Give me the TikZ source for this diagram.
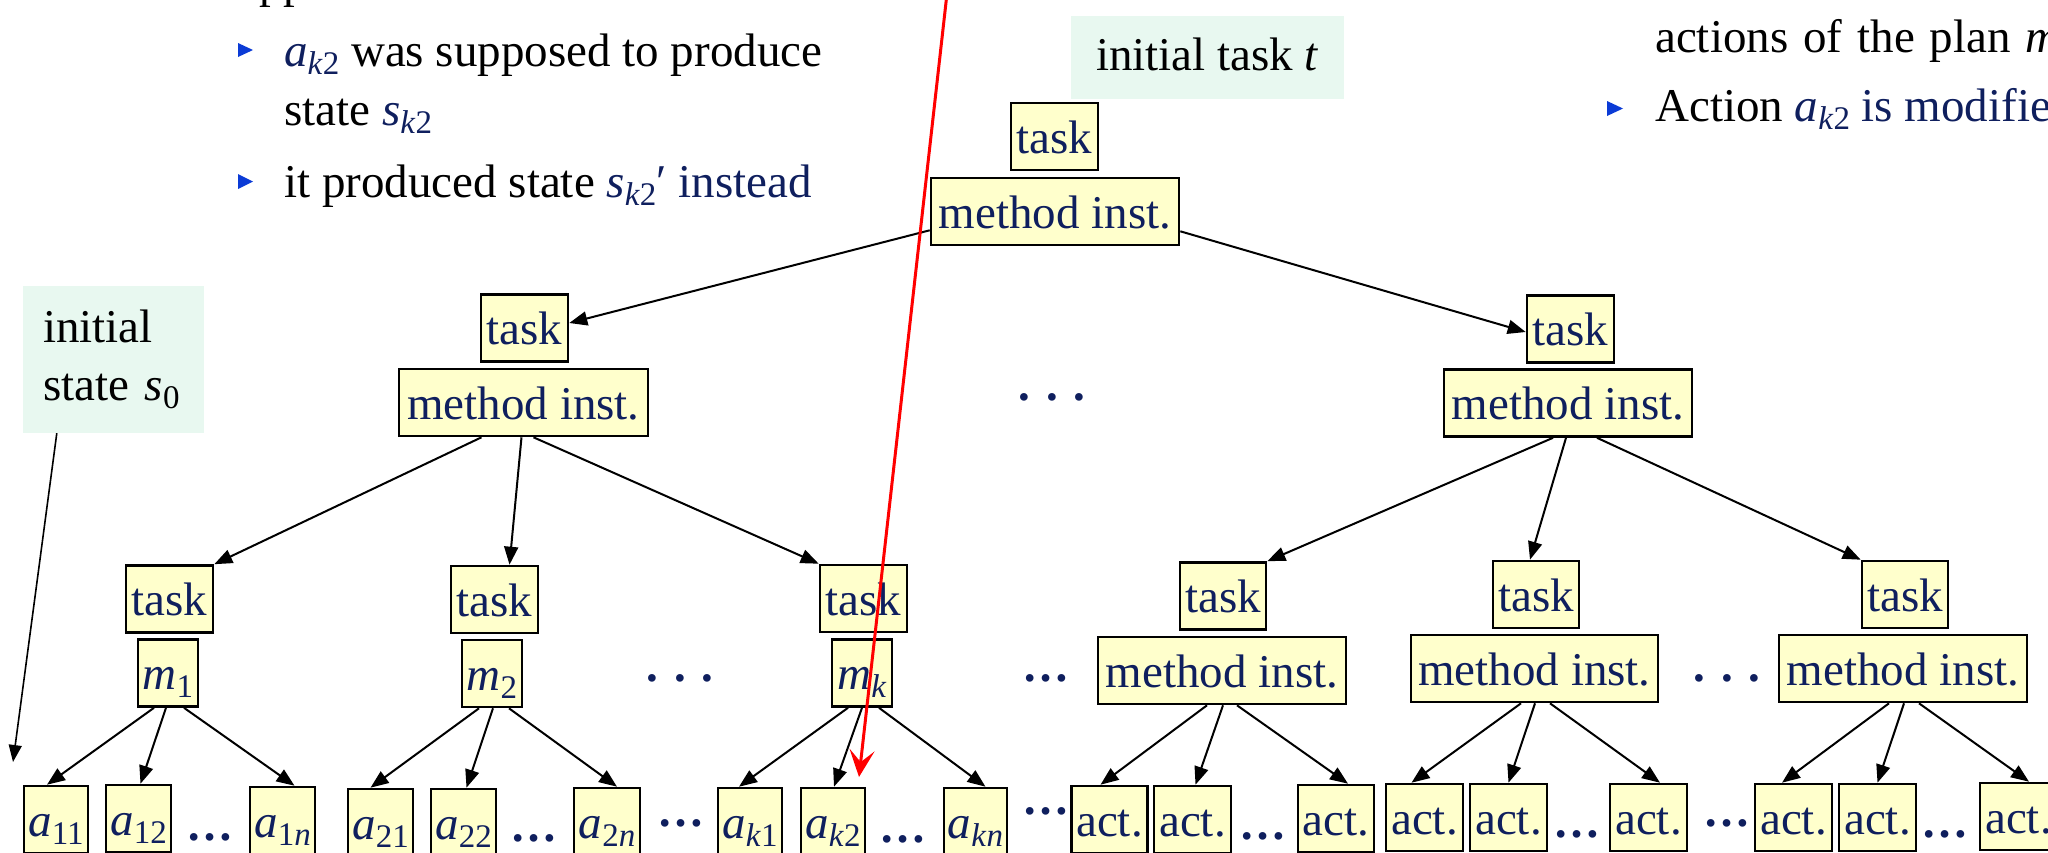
\documentclass[tikz,border=0pt]{standalone}
\usepackage{fontspec}
\setmainfont{Liberation Serif}
\usetikzlibrary{arrows.meta}
\definecolor{navy}{HTML}{0F1F5E}
\definecolor{boxyellow}{HTML}{FFFFCC}
\definecolor{mint}{HTML}{E8F8F0}
\definecolor{bulletblue}{HTML}{0B3BD6}
\newcommand{\ivar}[2]{\textit{#1}\raisebox{-8pt}{\fontsize{33}{33}\selectfont #2}}
\newcommand{\ik}{\textit{k}}
\newcommand{\inn}{\textit{n}}
\begin{document}
\begin{tikzpicture}[x=1pt,y=-1pt,
  every node/.style={inner sep=0pt},
  basefont/.style={font=\fontsize{47}{56}\selectfont},
  box/.style={basefont, draw=black, line width=2.6pt, fill=boxyellow, text=navy, minimum height=67pt, text height=42pt, text depth=9pt},
  tbox/.style={box, minimum width=87pt},
  mbox/.style={box, minimum width=248pt},
  sbox/.style={box, minimum width=60pt},
  abox/.style={box, minimum width=#1pt},
  arr/.style={draw=black, line width=2pt, -{Triangle[length=18pt,width=14pt]}},
  thinarr/.style={draw=black, line width=1.6pt, -{Triangle[length=17pt,width=13pt]}},
  redarr/.style={draw=red, line width=3pt, -{Stealth[length=27pt,width=25pt,inset=12pt]}},
  tdots/.style={text=navy, font=\fontsize{47}{56}\selectfont\bfseries, anchor=base},
  btext/.style={basefont, anchor=base west},
]
\useasboundingbox (0,0) rectangle (2048,852);
\clip (0,0) rectangle (2048,852);

% ---- bullet texts ----
\node[btext] (frag) at (210,-3) {Suppose};
\fill[bulletblue] (238,43) -- (253,50) -- (238,57) -- cycle;
\node[btext] (b1) at (284,66) {\textcolor{navy}{\ivar{a}{\ik2}} was supposed to produce};
\node[btext] (b1b) at (284,125) {state \textcolor{navy}{\ivar{s}{\ik2}}};
\fill[bulletblue] (238,174) -- (253,181.5) -- (238,189) -- cycle;
\node[btext] (b2) at (284,197) {it produced state \textcolor{navy}{\ivar{s}{\ik2}′ instead}};
\node[btext] (r1) at (1655,52) {{\spaceskip=15pt actions of the plan \textit{m}}};
\fill[bulletblue] (1607,101) -- (1623,108.5) -- (1607,116) -- cycle;
\node[btext] (r2) at (1655,121) {Action \textcolor{navy}{\ivar{a}{\ik2} is modified}};

% ---- labels ----
\node[basefont, fill=mint, minimum width=273pt, minimum height=83pt, text height=32pt, text depth=7pt] (itask) at (1207.5,57.5) {initial task \textit{t}};
\node[fill=mint, minimum width=181pt, minimum height=147pt, text width=141pt, inner xsep=20pt, align=left, font=\fontsize{47}{58}\selectfont] (istate) at (113.5,359.5) {initial\\state \ivar{s}{0}};
\coordinate (s0end) at (13,762);

% ---- tree ----
\node[tbox] (T0) at (1054.5,136.5) {task};
\node[mbox] (M0) at (1055,211.5) {method inst.};
\node[tbox] (T1) at (524.5,328) {task};
\node[mbox, minimum width=249pt] (M1) at (523.5,402.5) {method inst.};
\node[tbox] (T2) at (1570.5,329) {task};
\node[mbox] (M2) at (1568,403) {method inst.};
\node[tdots] (d0) at (1052,400) {. . .};

\node[tbox] (T11) at (169.5,599) {task};
\node[sbox] (m1) at (168,673) {\ivar{m}{1}};
\node[tbox] (T12) at (494.5,599.5) {task};
\node[sbox] (m2) at (492,673.5) {\ivar{m}{2}};
\node[tbox] (T13) at (863.5,598.5) {task};
\node[sbox] (mk) at (862,673) {\ivar{m}{\ik}};
\node[tdots] (d1) at (680,681) {. . .};
\node[tdots] (d2) at (1045.5,681) {…};

\node[tbox, minimum width=86pt] (T21) at (1223,596) {task};
\node[mbox] (M21) at (1222,670.5) {method inst.};
\node[tbox, minimum width=86pt] (T22) at (1536,594.5) {task};
\node[mbox, minimum width=247pt] (M22) at (1534.5,668.5) {method inst.};
\node[tbox, minimum width=86pt] (T23) at (1905,594.5) {task};
\node[mbox] (M23) at (1903,668.5) {method inst.};
\node[tdots] (d3) at (1727,681) {. . .};

% ---- bottom row ----
\node[abox=64] (a11) at (56,819.5) {\ivar{a}{11}};
\node[abox=65] (a12) at (138.5,818.5) {\ivar{a}{12}};
\node[tdots] (e1) at (209.5,840) {…};
\node[abox=65] (a1n) at (282.5,820.5) {\ivar{a}{1\inn}};
\node[abox=65] (a21) at (380.5,822.5) {\ivar{a}{21}};
\node[abox=65] (a22) at (463.5,822.5) {\ivar{a}{22}};
\node[tdots] (e2) at (534,841) {…};
\node[abox=66] (a2n) at (607,821.5) {\ivar{a}{2\inn}};
\node[tdots] (e3) at (680.5,826) {…};
\node[abox=64] (ak1) at (750,821.5) {\ivar{a}{\ik1}};
\node[abox=64] (ak2) at (833,821.5) {\ivar{a}{\ik2}};
\node[tdots] (e4) at (903,842) {…};
\node[abox=63] (akn) at (975.5,821.5) {\ivar{a}{\ik\inn}};
\node[tdots] (e5) at (1045.5,814) {…};
\node[abox=76] (c11) at (1109.5,819.5) {act.};
\node[abox=77] (c12) at (1192.5,819.5) {act.};
\node[tdots] (e6) at (1262.5,839) {…};
\node[abox=76] (c13) at (1336,818.5) {act.};
\node[abox=77] (c21) at (1424.5,817.5) {act.};
\node[abox=77] (c22) at (1508.5,817.5) {act.};
\node[tdots] (e7) at (1576.5,837) {…};
\node[abox=77] (c23) at (1648.5,817.5) {act.};
\node[tdots] (e8) at (1727,826) {…};
\node[abox=77] (c31) at (1793.5,817.5) {act.};
\node[abox=77] (c32) at (1877.5,817.5) {act.};
\node[tdots] (e9) at (1945,837) {…};
\node[abox=77] (c33) at (2018.5,816.5) {act.};

% ---- connectors ----
\draw[thinarr] ([xshift=34pt]istate.south west) -- (s0end);
\draw[arr] ([yshift=16pt]M0.south west) -- ([yshift=5pt]T1.east);
\draw[arr] ([yshift=15pt]M0.south east) -- ([yshift=-3pt]T2.west);

\draw[arr] ([xshift=-42pt]M1.south) -- (T11.north east);
\draw[arr] ([xshift=-2pt]M1.south) -- ([xshift=15pt]T12.north);
\draw[arr] ([xshift=10pt]M1.south) -- (T13.north west);

\draw[arr] ([xshift=-15pt]M2.south) -- (T21.north east);
\draw[arr] ([xshift=-2pt]M2.south) -- ([xshift=-6pt]T22.north);
\draw[arr] ([xshift=29pt]M2.south) -- (T23.north west);

\draw[arr] ([xshift=-14pt]m1.south) -- ([xshift=-9pt]a11.north);
\draw[arr] ([xshift=-2pt]m1.south) -- ([xshift=2pt]a12.north);
\draw[arr] ([xshift=16pt]m1.south) -- ([xshift=12pt]a1n.north);

\draw[arr] ([xshift=-13pt]m2.south) -- ([xshift=-10pt]a21.north);
\draw[arr] ([xshift=1pt]m2.south) -- ([xshift=3pt]a22.north);
\draw[arr] ([xshift=17pt]m2.south) -- ([xshift=10pt]a2n.north);

\draw[arr] ([xshift=-14pt]mk.south) -- ([xshift=-11pt]ak1.north);
\draw[arr] (mk.south) -- ([xshift=1pt]ak2.north);
\draw[arr] ([xshift=17pt]mk.south) -- ([xshift=10pt]akn.north);

\draw[arr] ([xshift=-15pt]M21.south) -- ([xshift=-9pt]c11.north);
\draw[arr] ([xshift=1pt]M21.south) -- ([xshift=3pt]c12.north);
\draw[arr] ([xshift=15pt]M21.south) -- ([xshift=12pt]c13.north);

\draw[arr] ([xshift=-13.5pt]M22.south) -- ([xshift=-13pt]c21.north);
\draw[arr] ([xshift=0.5pt]M22.south) -- (c22.north);
\draw[arr] ([xshift=15.5pt]M22.south) -- ([xshift=11.5pt]c23.north);

\draw[arr] ([xshift=-14pt]M23.south) -- ([xshift=-11.5pt]c31.north);
\draw[arr] ([xshift=1pt]M23.south) -- (c32.north);
\draw[arr] ([xshift=16pt]M23.south) -- ([xshift=10.5pt]c33.north);

% ---- red arrow ----
\coordinate (redstart) at (947.4,-10);
\coordinate (redend) at (859,777);
\draw[redarr] (redstart) -- (redend);
\end{tikzpicture}
\end{document}
